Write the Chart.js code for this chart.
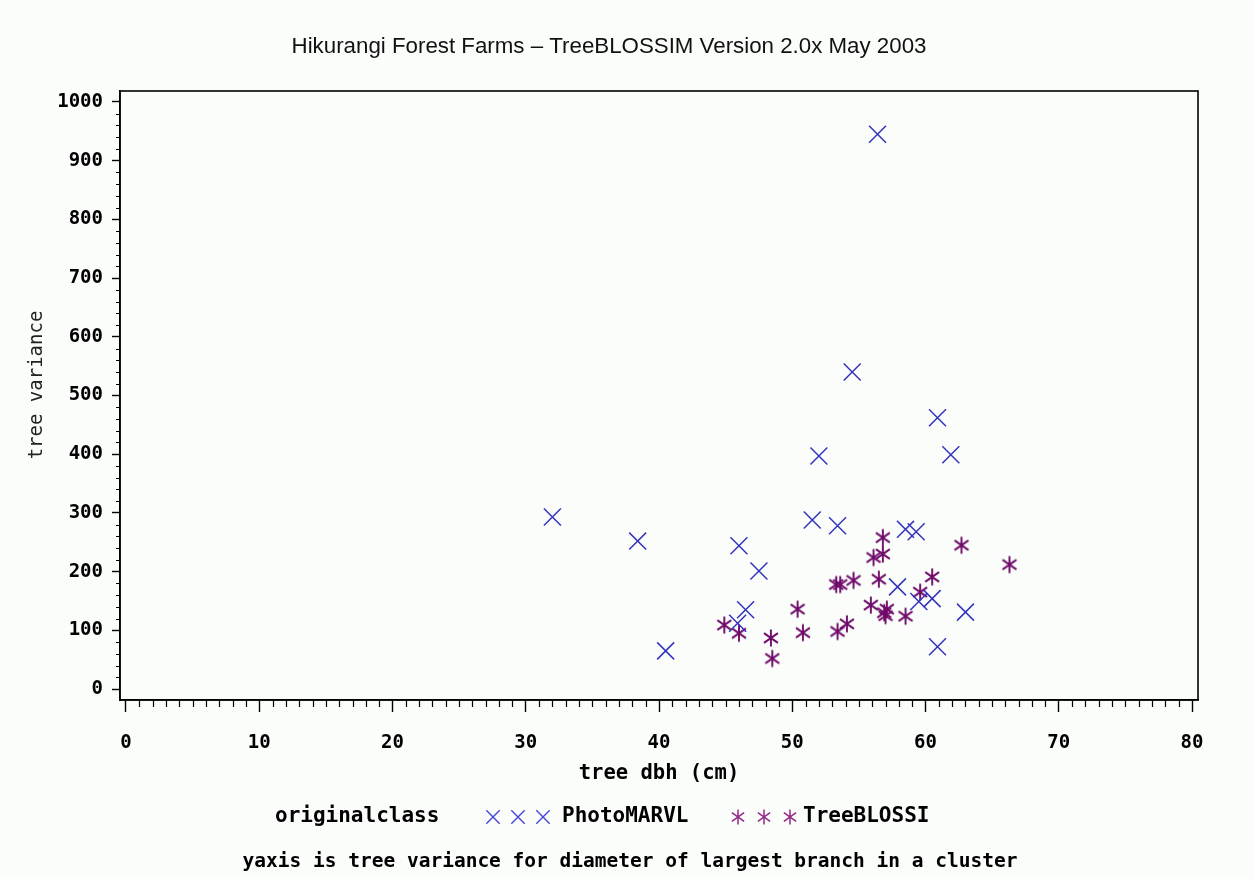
<!DOCTYPE html>
<html>
<head>
<meta charset="utf-8">
<script src="https://cdn.jsdelivr.net/npm/chart.js@4.4.1/dist/chart.umd.min.js"></script>
<style>
  html, body { margin: 0; padding: 0; background: #fafdfa; }
  #wrap { width: 1255px; height: 879px; }
</style>
</head>
<body>
<div id="wrap"><canvas id="c" width="1255" height="879"></canvas></div>
<script>
// Tick values for the two axes
const xTickValues = [0, 10, 20, 30, 40, 50, 60, 70, 80];
const yTickValues = [0, 100, 200, 300, 400, 500, 600, 700, 800, 900, 1000];

// Class names shown in the legend
const classNames = ['PhotoMARVL', 'TreeBLOSSI'];

// PhotoMARVL: tree dbh (cm) and tree variance
const photoDbh = [32.0, 38.4, 40.5, 45.9, 46.0, 46.5, 47.5, 51.5, 52.0, 53.4, 54.5,
                  56.4, 57.9, 58.5, 59.3, 59.5, 60.5, 60.9, 60.9, 61.9, 63.0];
const photoVar = [293, 252, 65, 112, 244, 135, 201, 288, 397, 278, 540,
                  945, 174, 272, 268, 149, 154, 72, 462, 399, 131];

// TreeBLOSSI: tree dbh (cm) and tree variance
const blossDbh = [44.9, 46.0, 48.4, 48.5, 50.4, 50.8, 53.3, 53.6, 53.4, 54.1, 54.6, 55.9,
                  56.1, 56.5, 56.8, 56.8, 56.9, 57.0, 57.1, 58.5, 59.6, 60.5, 62.7, 66.3];
const blossVar = [109, 95, 87, 52, 136, 96, 178, 178, 98, 111, 185, 143,
                  224, 187, 230, 258, 130, 125, 136, 124, 165, 191, 245, 212];

const BLUE = '#3434bd';
const PURPLE = '#700a6a';
const MONO = "'DejaVu Sans Mono', 'Liberation Mono', monospace";

// Six-armed asterisk marker
function asteriskImage(size, arm, color, lw) {
  const cv = document.createElement('canvas');
  cv.width = size; cv.height = size;
  const g = cv.getContext('2d');
  const c = size / 2;
  g.strokeStyle = color;
  g.lineWidth = lw;
  g.lineCap = 'butt';
  g.beginPath();
  g.moveTo(c, c - arm); g.lineTo(c, c + arm);
  const a = 35 * Math.PI / 180;
  const dx = arm * Math.cos(a), dy = arm * Math.sin(a);
  g.moveTo(c - dx, c - dy); g.lineTo(c + dx, c + dy);
  g.moveTo(c - dx, c + dy); g.lineTo(c + dx, c - dy);
  g.stroke();
  return cv;
}
const starMark = asteriskImage(20, 8.5, PURPLE, 1.9);
const starLegend = asteriskImage(18, 7.5, '#962a88', 1.5);

function toPoints(xs, ys) { return xs.map((x, i) => ({ x: x, y: ys[i] })); }

// Background, frame, minor ticks, titles, legend and footnote
const decor = {
  id: 'decor',
  beforeDraw(chart) {
    const ctx = chart.ctx;
    ctx.save();
    ctx.fillStyle = '#fafdfa';
    ctx.fillRect(0, 0, chart.width, chart.height);
    ctx.restore();
  },
  afterDraw(chart) {
    const ctx = chart.ctx;
    const a = chart.chartArea;
    const xs = chart.scales.x, ys = chart.scales.y;
    ctx.save();
    // frame
    ctx.strokeStyle = '#000';
    ctx.lineWidth = 1.6;
    ctx.strokeRect(a.left, a.top, a.right - a.left, a.bottom - a.top);
    // minor ticks
    ctx.lineWidth = 1.2;
    ctx.beginPath();
    for (let v = 1; v < 80; v++) {
      if (v % 10 === 0) continue;
      const px = Math.round(xs.getPixelForValue(v)) + 0.5;
      ctx.moveTo(px, a.bottom); ctx.lineTo(px, a.bottom + 7);
    }
    for (let v = 20; v < 1000; v += 20) {
      if (v % 100 === 0) continue;
      const py = Math.round(ys.getPixelForValue(v)) + 0.5;
      ctx.moveTo(a.left, py); ctx.lineTo(a.left - 4, py);
    }
    ctx.stroke();

    // main title
    ctx.fillStyle = '#111';
    ctx.textAlign = 'center';
    ctx.textBaseline = 'middle';
    ctx.font = "22.3px 'Liberation Sans', Arial, sans-serif";
    ctx.fillText('Hikurangi Forest Farms \u2013 TreeBLOSSIM Version 2.0x May 2003', 609, 47);

    // y axis title
    ctx.save();
    ctx.translate(37, 385);
    ctx.rotate(-Math.PI / 2);
    ctx.font = '19px ' + MONO;
    ctx.fillStyle = '#222';
    ctx.fillText('tree variance', 0, 0);
    ctx.restore();

    // legend
    ctx.font = 'bold 21px ' + MONO;
    ctx.fillStyle = '#000';
    ctx.textAlign = 'left';
    const ly = 817;
    ctx.fillText('originalclass', 275, ly);
    const xMark = { pointStyle: 'crossRot', radius: 9.5, borderWidth: 1.4, rotation: 0 };
    ctx.strokeStyle = '#4646d8';
    ctx.lineWidth = 1.4;
    [493, 518, 543].forEach(x => Chart.helpers.drawPoint(ctx, xMark, x, ly));
    ctx.fillText(classNames[0], 562, ly);
    const sMark = { pointStyle: starLegend, radius: 8, borderWidth: 1, rotation: 0 };
    [738, 764, 790].forEach(x => Chart.helpers.drawPoint(ctx, sMark, x, ly));
    ctx.fillText(classNames[1], 803, ly);

    // footnote
    ctx.textAlign = 'center';
    ctx.font = 'bold 19.5px ' + MONO;
    ctx.fillText('yaxis is tree variance for diameter of largest branch in a cluster', 630, 862);
    ctx.restore();
  }
};

new Chart(document.getElementById('c'), {
  type: 'scatter',
  data: {
    datasets: [
      {
        label: classNames[0],
        data: toPoints(photoDbh, photoVar),
        pointStyle: 'crossRot',
        radius: 12,
        borderColor: BLUE,
        backgroundColor: BLUE,
        borderWidth: 1.5
      },
      {
        label: classNames[1],
        data: toPoints(blossDbh, blossVar),
        pointStyle: starMark,
        radius: 10,
        borderColor: PURPLE,
        backgroundColor: PURPLE,
        borderWidth: 1.5
      }
    ]
  },
  options: {
    responsive: false,
    animation: false,
    devicePixelRatio: 1,
    events: [],
    layout: { padding: { top: 91, right: 57, left: 0, bottom: 0 } },
    plugins: {
      legend: { display: false },
      title: { display: false },
      tooltip: { enabled: false }
    },
    scales: {
      x: {
        type: 'linear',
        min: -0.45,
        max: 80.45,
        afterBuildTicks: s => { s.ticks = xTickValues.map(v => ({ value: v })); },
        afterFit: s => { s.height = 179; },
        ticks: {
          color: '#000',
          font: { family: MONO, size: 19, weight: 'bold' },
          padding: 20,
          maxRotation: 0,
          autoSkip: false,
          callback: v => String(v)
        },
        grid: { drawOnChartArea: false, tickLength: 12, tickColor: '#000', tickWidth: 1.4 },
        border: { color: '#000', width: 1.6 },
        title: {
          display: true,
          text: 'tree dbh (cm)',
          color: '#000',
          font: { family: MONO, size: 20.5, weight: 'bold' },
          padding: { top: 0, bottom: 93 }
        }
      },
      y: {
        type: 'linear',
        min: -18.7,
        max: 1018.7,
        afterBuildTicks: s => { s.ticks = yTickValues.map(v => ({ value: v })); },
        afterFit: s => { s.width = 120; },
        ticks: {
          color: '#000',
          font: { family: MONO, size: 19, weight: 'bold' },
          padding: 9,
          autoSkip: false,
          callback: v => String(v)
        },
        grid: { drawOnChartArea: false, tickLength: 8, tickColor: '#000', tickWidth: 1.4 },
        border: { color: '#000', width: 1.6 }
      }
    }
  },
  plugins: [decor]
});
</script>
</body>
</html>
